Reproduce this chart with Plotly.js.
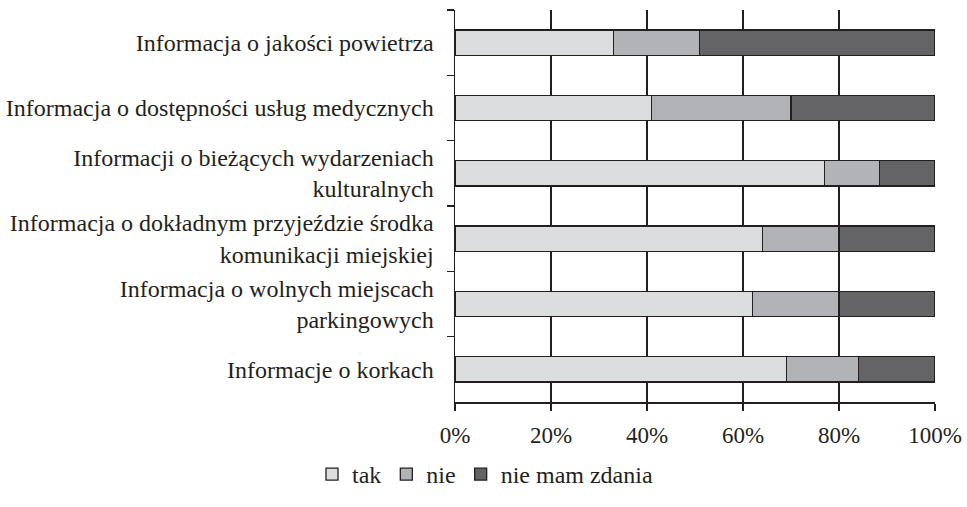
<!DOCTYPE html>
<html>
<head>
<meta charset="utf-8">
<script src="https://cdn.plot.ly/plotly-3.0.1.min.js"></script>
<style>html,body{margin:0;padding:0;background:#fff;}#chart{width:967px;height:507px;}</style>
</head>
<body>
<div id="chart"></div>
<script>
const categories = [
  "Informacja o jakości powietrza",
  "Informacja o dostępności usług medycznych",
  "Informacji o bieżących wydarzeniach<br>kulturalnych",
  "Informacja o dokładnym przyjeździe środka<br>komunikacji miejskiej",
  "Informacja o wolnych miejscach<br>parkingowych",
  "Informacje o korkach"
];
const seriesNames = ["tak", "nie", "nie mam zdania"];
const tak = [33, 41, 77, 64, 62, 69];
const nie = [18, 29, 11.5, 16, 18, 15];
const nieMamZdania = [49, 30, 11.5, 20, 20, 16];
const xTickVals = [0, 20, 40, 60, 80, 100];
const xTickText = ["0%", "20%", "40%", "60%", "80%", "100%"];

const colors = ["#DCDDDF", "#B2B3B6", "#646466"];
const values = [tak, nie, nieMamZdania];

const traces = values.map((v, i) => ({
  type: "bar",
  orientation: "h",
  name: seriesNames[i],
  x: v,
  y: categories,
  marker: {color: colors[i], line: {color: "#231f20", width: 1.3}},
  hoverinfo: "x+name"
}));

const layout = {
  width: 967,
  height: 507,
  margin: {l: 455, r: 32, t: 10, b: 84},
  paper_bgcolor: "#fff",
  plot_bgcolor: "#fff",
  barmode: "stack",
  bargap: 0.61,
  font: {family: "Liberation Serif, Times New Roman, serif", size: 24, color: "#231f20"},
  showlegend: true,
  legend: {
    orientation: "h",
    x: 0.0625, xanchor: "center",
    y: -0.185, yanchor: "middle",
    font: {size: 24},
    itemwidth: 30,
    traceorder: "normal",
    itemclick: false
  },
  xaxis: {
    range: [0, 100],
    tickvals: xTickVals,
    ticktext: xTickText,
    tickfont: {size: 23},
    showgrid: true,
    gridcolor: "#231f20",
    gridwidth: 1.5,
    zeroline: false,
    showline: true,
    linecolor: "#231f20",
    linewidth: 1.5,
    ticks: "outside",
    ticklen: 7,
    tickwidth: 1.5,
    tickcolor: "#231f20",
    ticklabelstandoff: 5,
    fixedrange: true
  },
  yaxis: {
    type: "category",
    autorange: "reversed",
    showline: true,
    linecolor: "#231f20",
    linewidth: 1.5,
    ticks: "outside",
    tickson: "boundaries",
    ticklen: 7,
    tickwidth: 1.5,
    tickcolor: "#231f20",
    tickfont: {size: 24},
    showgrid: false,
    ticklabelstandoff: 15,
    fixedrange: true
  }
};

Plotly.newPlot("chart", traces, layout, {displayModeBar: false, staticPlot: true});
</script>
</body>
</html>
